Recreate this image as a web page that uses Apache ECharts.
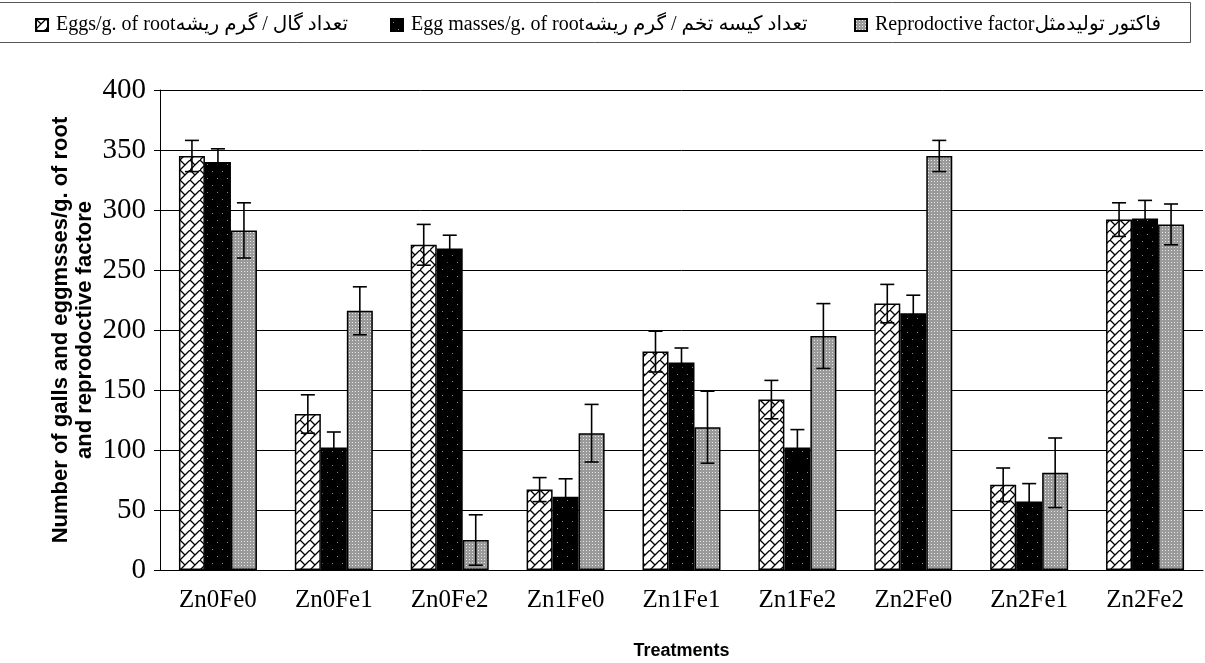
<!DOCTYPE html>
<html>
<head>
<meta charset="utf-8">
<script src="https://cdn.jsdelivr.net/npm/echarts@6/dist/echarts.min.js"></script>
<style>
html,body{margin:0;padding:0;background:#fff;}
#chart{width:1205px;height:663px;}
</style>
</head>
<body>
<div id="chart"></div>
<script>
// ---- data ----
const categories = ['Zn0Fe0','Zn0Fe1','Zn0Fe2','Zn1Fe0','Zn1Fe1','Zn1Fe2','Zn2Fe0','Zn2Fe1','Zn2Fe2'];
const seriesNames = ['Eggs/g. of rootتعداد گال / گرم ریشه', 'Egg masses/g. of rootتعداد کیسه تخم / گرم ریشه', 'Reprodoctive factorفاکتور تولیدمثل'];
const eggs = [345, 130, 271, 67, 182, 142, 222, 71, 292];
const eggsErr = [13, 16, 17, 10, 17, 16, 16, 14, 14];
const masses = [340, 102, 268, 61, 173, 102, 214, 57, 293];
const massesErr = [11, 13, 11, 15, 12, 15, 15, 15, 15];
const rf = [283, 216, 25, 114, 119, 195, 345, 81, 288];
const rfErr = [23, 20, 21, 24, 30, 27, 13, 29, 17];
const yTicks = { min: 0, max: 400, interval: 50 };
const yTitle = 'Number of galls and eggmsses/g. of root\nand reprodoctive factore';
const xTitle = 'Treatments';

// ---- patterns ----
function makeCanvas(w, h) { const c = document.createElement('canvas'); c.width = w; c.height = h; return c; }
function brickPattern() {
  const s = 10, c = makeCanvas(s, s), g = c.getContext('2d');
  g.fillStyle = '#fff'; g.fillRect(0, 0, s, s);
  g.strokeStyle = '#000'; g.lineWidth = 1.3;
  g.beginPath();
  g.moveTo(-1, s + 1); g.lineTo(s + 1, -1);
  g.moveTo(0, 0); g.lineTo(s / 2, s / 2);
  g.stroke();
  return c;
}
function dotsPattern() {
  const c = makeCanvas(10, 14), g = c.getContext('2d');
  g.fillStyle = '#000'; g.fillRect(0, 0, 10, 14);
  g.fillStyle = '#8a8a8a';
  g.fillRect(2, 3, 1, 1); g.fillRect(7, 10, 1, 1);
  return c;
}
function greyPattern() {
  const c = makeCanvas(3, 3), g = c.getContext('2d');
  g.fillStyle = '#9a9a9a'; g.fillRect(0, 0, 3, 3);
  g.fillStyle = '#e6e6e6'; g.fillRect(1, 1, 1, 1);
  return c;
}
const fills = [
  { image: brickPattern(), repeat: 'repeat' },
  { image: dotsPattern(), repeat: 'repeat' },
  { image: greyPattern(), repeat: 'repeat' }
];

const BAR_W = 26;
const values = [eggs, masses, rf];
const errs = [eggsErr, massesErr, rfErr];

function errSeries(idx) {
  const off = (idx - 1) * BAR_W;
  return {
    type: 'custom',
    name: seriesNames[idx] + '_err',
    z: 5,
    silent: true,
    data: categories.map((c, i) => [i, values[idx][i], errs[idx][i]]),
    renderItem: function (params, api) {
      const i = api.value(0), v = api.value(1), e = api.value(2);
      const top = api.coord([i, v + e]);
      const bot = api.coord([i, v - e]);
      const x = top[0] + off;
      const cap = 7;
      const st = { stroke: '#000', lineWidth: 1.6 };
      return {
        type: 'group',
        children: [
          { type: 'line', shape: { x1: x, y1: top[1], x2: x, y2: bot[1] }, style: st },
          { type: 'line', shape: { x1: x - cap, y1: top[1], x2: x + cap, y2: top[1] }, style: st },
          { type: 'line', shape: { x1: x - cap, y1: bot[1], x2: x + cap, y2: bot[1] }, style: st }
        ]
      };
    }
  };
}

const serif = "'Liberation Serif', 'DejaVu Sans', serif";
const sans = "'Liberation Sans', Arial, sans-serif";

const legendBase = {
  top: 10, itemWidth: 12, itemHeight: 12, itemGap: 0, icon: 'rect',
  textStyle: { fontFamily: serif, fontSize: 20, color: '#000', padding: [0, 0, 0, 3] },
  selectedMode: false
};

const option = {
  animation: false,
  backgroundColor: '#fff',
  graphic: [{
    type: 'rect', z: -1,
    shape: { x: -5, y: 2.5, width: 1195.5, height: 40 },
    style: { fill: 'none', stroke: '#555', lineWidth: 1 }
  }],
  legend: [
    Object.assign({}, legendBase, { left: 30, data: [seriesNames[0]] }),
    Object.assign({}, legendBase, { left: 385, data: [seriesNames[1]] }),
    Object.assign({}, legendBase, { left: 849, data: [seriesNames[2]] })
  ],
  grid: { left: 160, right: 2, top: 90, bottom: 93, containLabel: false, outerBoundsMode: 'none' },
  xAxis: {
    type: 'category',
    data: categories,
    name: xTitle,
    nameLocation: 'middle',
    nameGap: 72,
    nameMoveOverlap: false,
    nameTextStyle: { fontFamily: sans, fontWeight: 'bold', fontSize: 18, color: '#000' },
    axisLine: { lineStyle: { color: '#000', width: 1 } },
    axisTick: { length: 7, lineStyle: { color: '#000' } },
    axisLabel: { fontFamily: serif, fontSize: 25, color: '#000', margin: 18 },
    splitLine: { show: false }
  },
  yAxis: {
    type: 'value',
    min: yTicks.min, max: yTicks.max, interval: yTicks.interval,
    name: yTitle,
    nameLocation: 'middle',
    nameGap: 63,
    nameMoveOverlap: false,
    nameTextStyle: { fontFamily: sans, fontWeight: 'bold', fontSize: 22, color: '#000', lineHeight: 24 },
    axisLine: { show: true, lineStyle: { color: '#000', width: 1 } },
    axisTick: { show: true, length: 6, lineStyle: { color: '#000' } },
    axisLabel: { fontFamily: serif, fontSize: 29, color: '#000', margin: 14 },
    splitLine: { lineStyle: { color: '#000', width: 1 } }
  },
  series: [0, 1, 2].map(idx => ({
    type: 'bar',
    name: seriesNames[idx],
    data: values[idx],
    barWidth: BAR_W,
    barGap: '0%',
    itemStyle: { color: fills[idx], borderColor: '#000', borderWidth: 1.5 }
  })).concat([errSeries(0), errSeries(1), errSeries(2)])
};

const chart = echarts.init(document.getElementById('chart'), null, { renderer: 'canvas' });
chart.setOption(option);
</script>
</body>
</html>
